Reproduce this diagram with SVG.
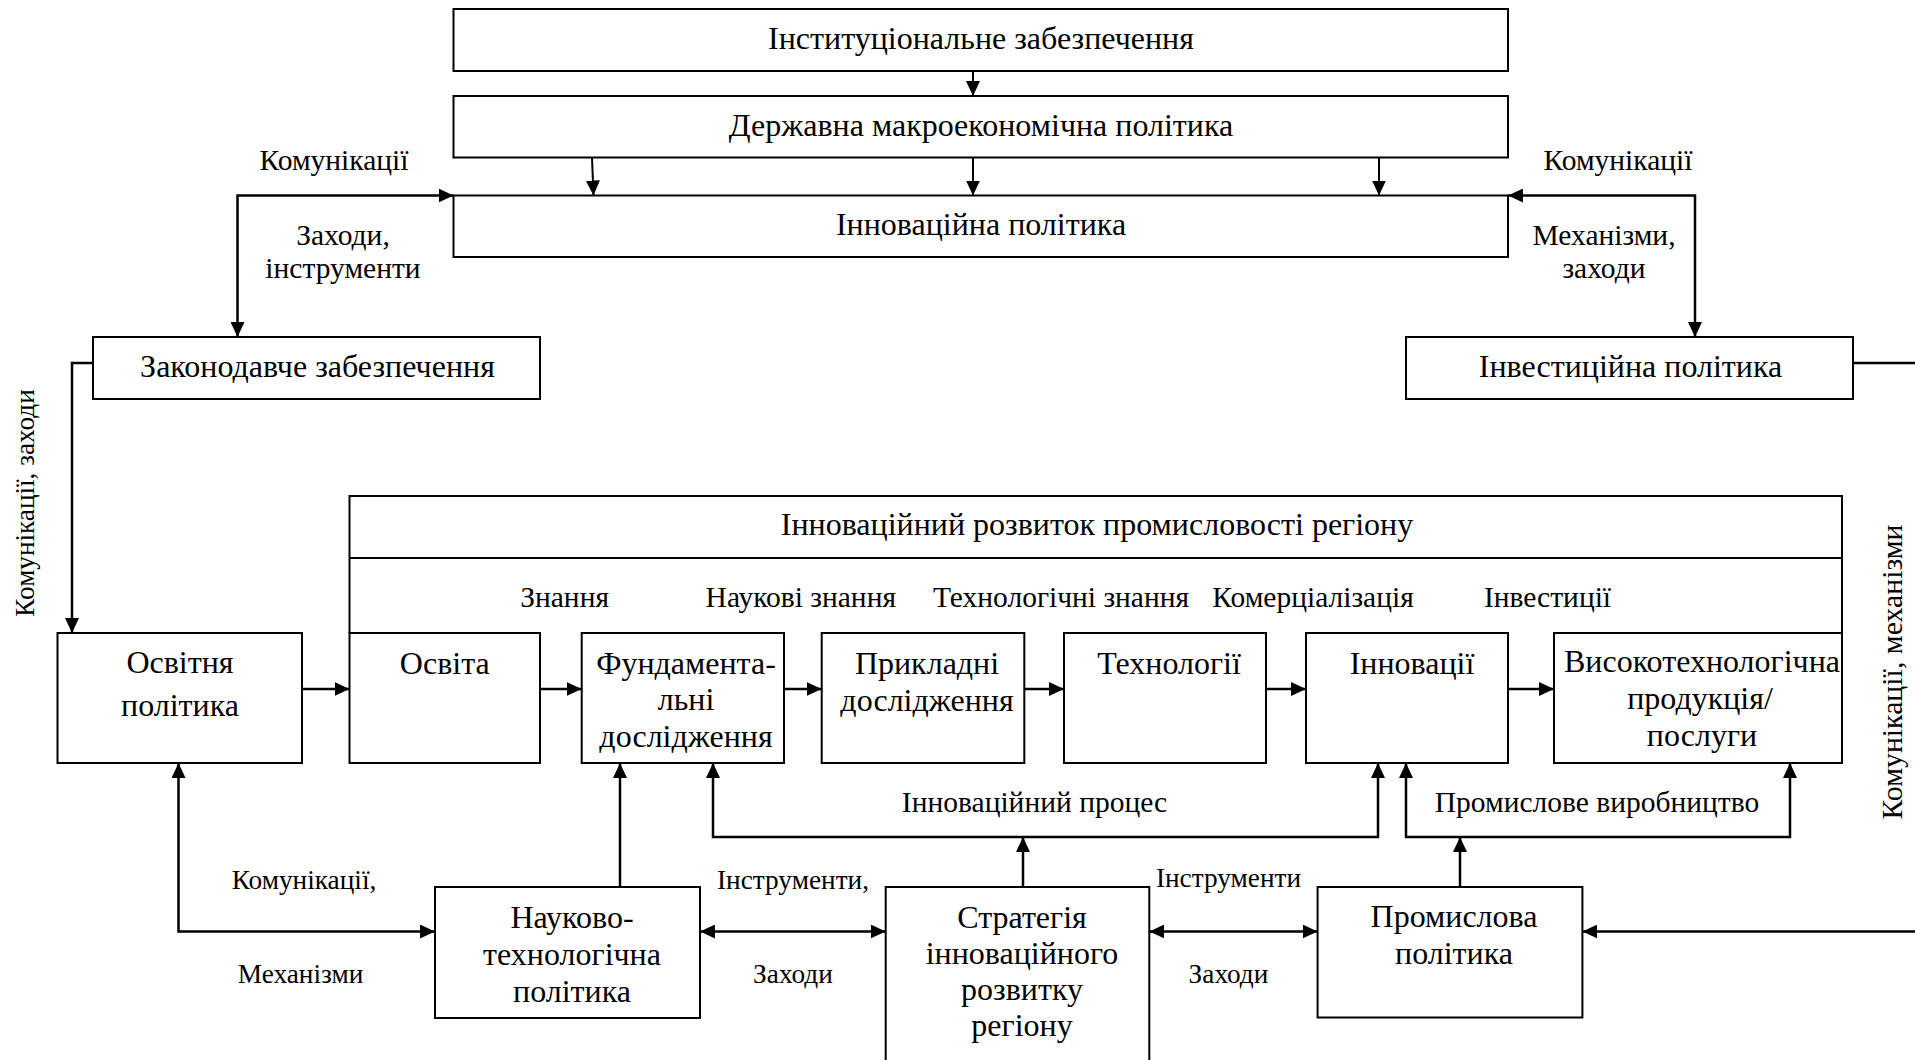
<svg xmlns="http://www.w3.org/2000/svg" width="1915" height="1060" viewBox="0 0 1915 1060">
<style>
.box{fill:#fff;stroke:#000;stroke-width:2}
.frame{fill:none;stroke:#000;stroke-width:2}
.c{fill:none;stroke:#000;stroke-width:2.5}
.ct{fill:none;stroke:#000;stroke-width:2}
text{font-family:"Liberation Serif","Times New Roman",serif;fill:#000;text-anchor:middle}
.t{font-size:32px}
.l{font-size:29.5px}
.s{font-size:27.3px}
.r1{font-size:27.2px}
.r2{font-size:29.8px}
</style>
<defs>
<marker id="ah" viewBox="0 0 15 14" refX="15" refY="7" markerWidth="15" markerHeight="14" markerUnits="userSpaceOnUse" orient="auto-start-reverse"><path d="M0,0 L15,7 L0,14 z" fill="#000"/></marker>
</defs>
<rect width="1915" height="1060" fill="#fff"/>

<g id="connectors">
<line class="ct" x1="973" y1="71" x2="973" y2="96" marker-end="url(#ah)"/>
<line class="ct" x1="592" y1="157.5" x2="593.5" y2="195.5" marker-end="url(#ah)"/>
<line class="ct" x1="973" y1="157.5" x2="973" y2="195.5" marker-end="url(#ah)"/>
<line class="ct" x1="1379" y1="157.5" x2="1379" y2="195.5" marker-end="url(#ah)"/>
<polyline class="c" points="237.5,337 237.5,195.5 453.5,195.5" marker-start="url(#ah)" marker-end="url(#ah)"/>
<polyline class="c" points="1695,337 1695,195.5 1508,195.5" marker-start="url(#ah)" marker-end="url(#ah)"/>
<polyline class="c" points="93,363 72,363 72,633" marker-end="url(#ah)"/>
<line class="c" x1="1853" y1="363" x2="1915" y2="363"/>
<line class="c" x1="302" y1="689" x2="349.5" y2="689" marker-end="url(#ah)"/>
<line class="c" x1="540" y1="689" x2="581.7" y2="689" marker-end="url(#ah)"/>
<line class="c" x1="784" y1="689" x2="821.7" y2="689" marker-end="url(#ah)"/>
<line class="c" x1="1024.3" y1="689" x2="1064" y2="689" marker-end="url(#ah)"/>
<line class="c" x1="1266" y1="689" x2="1306" y2="689" marker-end="url(#ah)"/>
<line class="c" x1="1508" y1="689" x2="1554" y2="689" marker-end="url(#ah)"/>
<polyline class="c" points="435,931.5 178.5,931.5 178.5,763" marker-start="url(#ah)" marker-end="url(#ah)"/>
<line class="c" x1="620" y1="887" x2="620" y2="763" marker-end="url(#ah)"/>
<line class="c" x1="700" y1="931.5" x2="885.7" y2="931.5" marker-start="url(#ah)" marker-end="url(#ah)"/>
<line class="c" x1="1149.3" y1="931.5" x2="1317.6" y2="931.5" marker-start="url(#ah)" marker-end="url(#ah)"/>
<line class="c" x1="1915" y1="931.5" x2="1582.4" y2="931.5" marker-end="url(#ah)"/>
<polyline class="c" points="713,763 713,837 1378,837 1378,763" marker-start="url(#ah)" marker-end="url(#ah)"/>
<line class="c" x1="1023" y1="887" x2="1023" y2="837" marker-end="url(#ah)"/>
<polyline class="c" points="1406,763 1406,837 1790,837 1790,763" marker-start="url(#ah)" marker-end="url(#ah)"/>
<line class="c" x1="1460" y1="887" x2="1460" y2="837" marker-end="url(#ah)"/>
<text class="l" x="334" y="170">Комунікації</text>
<text class="l" x="343" y="245">Заходи,</text>
<text class="l" x="343" y="278">інструменти</text>
<text class="l" x="1618" y="170">Комунікації</text>
<text class="l" x="1604" y="245">Механізми,</text>
<text class="l" x="1604" y="278">заходи</text>
<text class="r1" transform="translate(34,503) rotate(-90)">Комунікації, заходи</text>
<text class="r2" transform="translate(1902,672) rotate(-90)">Комунікації, механізми</text>
<text class="l" x="564.6" y="606.5">Знання</text>
<text class="l" x="800.8" y="606.5">Наукові знання</text>
<text class="l" x="1061" y="606.5">Технологічні знання</text>
<text class="l" x="1313" y="606.5">Комерціалізація</text>
<text class="l" x="1547.5" y="606.5">Інвестиції</text>
<text class="l" x="1034.5" y="812">Інноваційний процес</text>
<text class="l" x="1597" y="812">Промислове виробництво</text>
<text class="s" x="304" y="889">Комунікації,</text>
<text class="s" x="300.5" y="983">Механізми</text>
<text class="s" x="793" y="889">Інструменти,</text>
<text class="s" x="793" y="983">Заходи</text>
<text class="s" x="1228.5" y="887">Інструменти</text>
<text class="s" x="1228.5" y="983">Заходи</text>
</g>

<g id="n-institutional">
<rect class="box" x="453.5" y="9" width="1054.5" height="62"/>
<text class="t" x="981" y="49">Інституціональне забезпечення</text>
</g>
<g id="n-macro">
<rect class="box" x="453.5" y="96" width="1054.5" height="61.5"/>
<text class="t" x="981" y="136">Державна макроекономічна політика</text>
</g>
<g id="n-innovation-policy">
<rect class="box" x="453.5" y="195.5" width="1054.5" height="61.5"/>
<text class="t" x="981" y="235">Інноваційна політика</text>
</g>
<g id="n-legislative">
<rect class="box" x="93" y="337" width="447" height="62"/>
<text class="t" x="317.5" y="377">Законодавче забезпечення</text>
</g>
<g id="n-investment">
<rect class="box" x="1406" y="337" width="447" height="62"/>
<text class="t" x="1630.5" y="377">Інвестиційна політика</text>
</g>
<g id="n-development">
<path class="frame" d="M349.5,633 V496 H1842 V633 M349.5,558 H1842"/>
<text class="t" x="1097" y="535">Інноваційний розвиток промисловості регіону</text>
</g>
<g id="n-edu-policy">
<rect class="box" x="57.5" y="633" width="244.5" height="130"/>
<text class="t" x="180" y="673">Освітня</text>
<text class="t" x="180" y="716">політика</text>
</g>
<g id="n-education">
<rect class="box" x="349.5" y="633" width="190.5" height="130"/>
<text class="t" x="444.8" y="674">Освіта</text>
</g>
<g id="n-fundamental">
<rect class="box" x="581.7" y="633" width="202.3" height="130"/>
<text class="t" x="686" y="674">Фундамента-</text>
<text class="t" x="686" y="710">льні</text>
<text class="t" x="686" y="747">дослідження</text>
</g>
<g id="n-applied">
<rect class="box" x="821.7" y="633" width="202.6" height="130"/>
<text class="t" x="927" y="674">Прикладні</text>
<text class="t" x="927" y="711">дослідження</text>
</g>
<g id="n-technologies">
<rect class="box" x="1064" y="633" width="202" height="130"/>
<text class="t" x="1169" y="674">Технології</text>
</g>
<g id="n-innovations">
<rect class="box" x="1306" y="633" width="202" height="130"/>
<text class="t" x="1412" y="674">Інновації</text>
</g>
<g id="n-hightech">
<rect class="box" x="1554" y="633" width="288" height="130"/>
<text class="t" x="1702" y="672">Високотехнологічна</text>
<text class="t" x="1700" y="709">продукція/</text>
<text class="t" x="1702" y="746">послуги</text>
</g>
<g id="n-scitech">
<rect class="box" x="435" y="887" width="265" height="131"/>
<text class="t" x="572" y="928">Науково-</text>
<text class="t" x="572" y="965">технологічна</text>
<text class="t" x="572" y="1002">політика</text>
</g>
<g id="n-strategy">
<rect class="box" x="885.7" y="887" width="263.6" height="180"/>
<text class="t" x="1022" y="928">Стратегія</text>
<text class="t" x="1022" y="964">інноваційного</text>
<text class="t" x="1022" y="1000">розвитку</text>
<text class="t" x="1022" y="1036">регіону</text>
</g>
<g id="n-industrial">
<rect class="box" x="1317.6" y="887" width="264.8" height="130.5"/>
<text class="t" x="1454" y="927">Промислова</text>
<text class="t" x="1454" y="964">політика</text>
</g>
</svg>
